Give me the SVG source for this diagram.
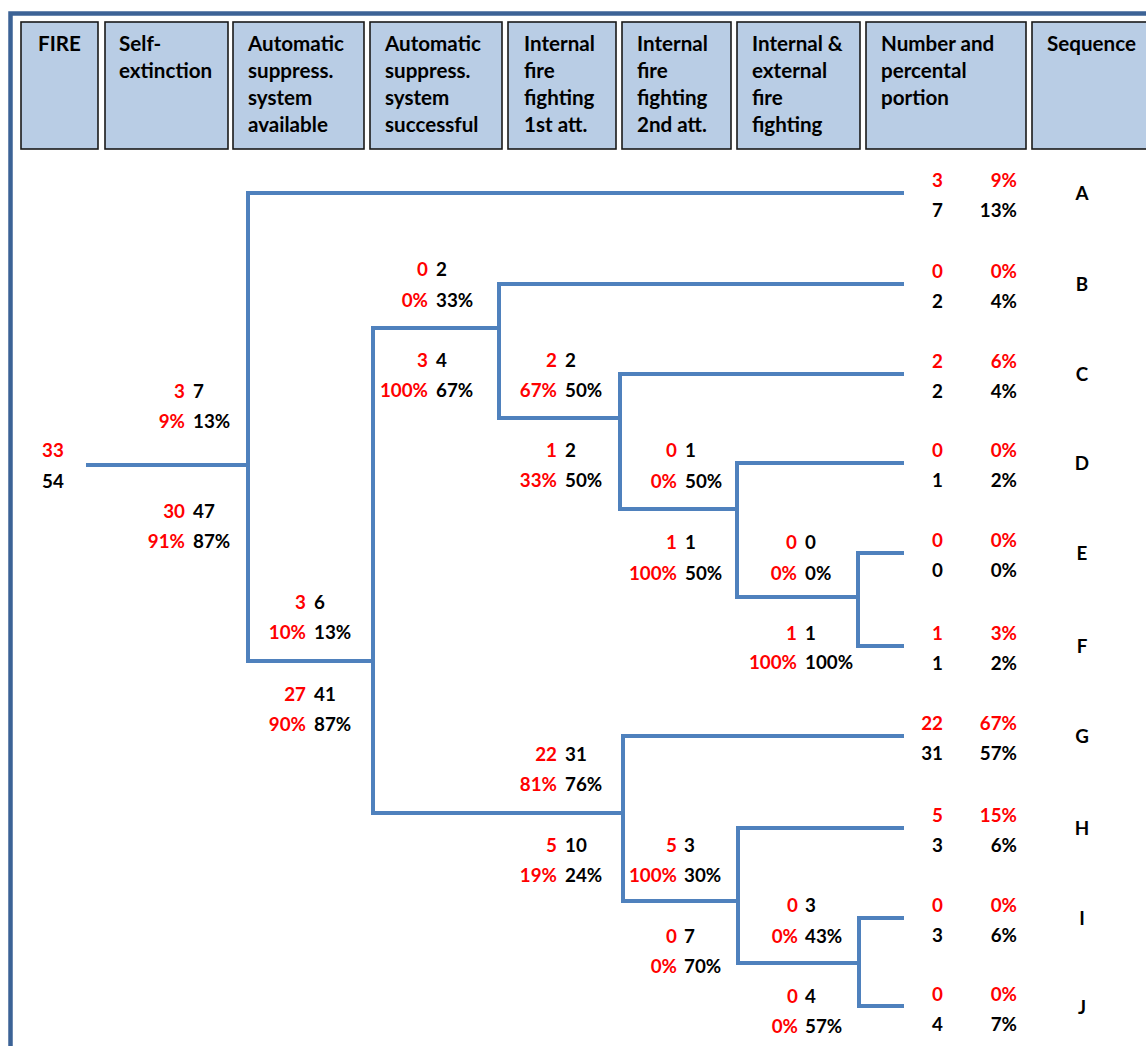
<svg xmlns="http://www.w3.org/2000/svg" width="1146" height="1046" viewBox="0 0 1146 1046">
<style>
text{font-family:Lato,"Liberation Sans",sans-serif;font-weight:bold}
.hb{fill:#B9CDE5;stroke:#1a1a1a;stroke-width:1.6}
.ht{font-size:20.6px;fill:#000}
.n{font-size:18.8px}
.r{fill:#FF0000}
.k{fill:#000}
.e{text-anchor:end}
.m{text-anchor:middle}
.tree path{fill:none;stroke:#4F81BD;stroke-width:4}
</style>
<rect x="0" y="0" width="1146" height="1046" fill="#fff"/>
<rect id="frame" x="10.5" y="13.5" width="1200" height="1100" fill="none" stroke="#3C6396" stroke-width="4.5"/>

<g id="headers">
<g id="h-fire"><rect class="hb" x="21" y="22" width="77" height="127"/><text class="ht m" x="59.5" y="51">FIRE</text></g>
<g id="h-self"><rect class="hb" x="105" y="22" width="123" height="127"/><text class="ht" x="119" y="51">Self-</text><text class="ht" x="119" y="78">extinction</text></g>
<g id="h-avail"><rect class="hb" x="233" y="22" width="131" height="127"/><text class="ht" x="248" y="51">Automatic</text><text class="ht" x="248" y="78">suppress.</text><text class="ht" x="248" y="105">system</text><text class="ht" x="248" y="132">available</text></g>
<g id="h-succ"><rect class="hb" x="370" y="22" width="132" height="127"/><text class="ht" x="385" y="51">Automatic</text><text class="ht" x="385" y="78">suppress.</text><text class="ht" x="385" y="105">system</text><text class="ht" x="385" y="132">successful</text></g>
<g id="h-int1"><rect class="hb" x="508" y="22" width="108" height="127"/><text class="ht" x="524" y="51">Internal</text><text class="ht" x="524" y="78">fire</text><text class="ht" x="524" y="105">fighting</text><text class="ht" x="524" y="132">1st att.</text></g>
<g id="h-int2"><rect class="hb" x="622" y="22" width="109" height="127"/><text class="ht" x="637" y="51">Internal</text><text class="ht" x="637" y="78">fire</text><text class="ht" x="637" y="105">fighting</text><text class="ht" x="637" y="132">2nd att.</text></g>
<g id="h-ext"><rect class="hb" x="737" y="22" width="123" height="127"/><text class="ht" x="752" y="51">Internal &amp;</text><text class="ht" x="752" y="78">external</text><text class="ht" x="752" y="105">fire</text><text class="ht" x="752" y="132">fighting</text></g>
<g id="h-num"><rect class="hb" x="866" y="22" width="160" height="127"/><text class="ht" x="881" y="51">Number and</text><text class="ht" x="881" y="78">percental</text><text class="ht" x="881" y="105">portion</text></g>
<g id="h-seq"><rect class="hb" x="1032" y="22" width="130" height="127"/><text class="ht" x="1047" y="51">Sequence</text></g>
</g>

<g id="connectors" class="tree">
<path d="M86 465 H248"/>
<path d="M904 193 H248 V661 H373"/>
<path d="M499 328 H373 V813 H623"/>
<path d="M904 284 H499 V418 H620"/>
<path d="M904 374 H620 V509 H737"/>
<path d="M904 463 H737 V597 H858"/>
<path d="M904 553 H858 V646 H904"/>
<path d="M904 736 H623 V901 H738"/>
<path d="M904 828 H738 V963 H859"/>
<path d="M904 918 H859 V1006 H904"/>
</g>

<g id="root"><text class="n r m" x="53" y="457">33</text><text class="n k m" x="53" y="488">54</text></g>

<g id="b-self-yes"><text class="n r e" x="185" y="398">3</text><text class="n k" x="193" y="398">7</text><text class="n r e" x="185" y="428">9%</text><text class="n k" x="193" y="428">13%</text></g>
<g id="b-self-no"><text class="n r e" x="185" y="518">30</text><text class="n k" x="193" y="518">47</text><text class="n r e" x="185" y="548">91%</text><text class="n k" x="193" y="548">87%</text></g>
<g id="b-avail-yes"><text class="n r e" x="306" y="609">3</text><text class="n k" x="314" y="609">6</text><text class="n r e" x="306" y="639">10%</text><text class="n k" x="314" y="639">13%</text></g>
<g id="b-avail-no"><text class="n r e" x="306" y="701">27</text><text class="n k" x="314" y="701">41</text><text class="n r e" x="306" y="731">90%</text><text class="n k" x="314" y="731">87%</text></g>
<g id="b-succ-yes"><text class="n r e" x="428" y="276">0</text><text class="n k" x="436" y="276">2</text><text class="n r e" x="428" y="307">0%</text><text class="n k" x="436" y="307">33%</text></g>
<g id="b-succ-no"><text class="n r e" x="428" y="367">3</text><text class="n k" x="436" y="367">4</text><text class="n r e" x="428" y="397">100%</text><text class="n k" x="436" y="397">67%</text></g>
<g id="b-int1a-yes"><text class="n r e" x="557" y="367">2</text><text class="n k" x="565" y="367">2</text><text class="n r e" x="557" y="397">67%</text><text class="n k" x="565" y="397">50%</text></g>
<g id="b-int1a-no"><text class="n r e" x="557" y="457">1</text><text class="n k" x="565" y="457">2</text><text class="n r e" x="557" y="487">33%</text><text class="n k" x="565" y="487">50%</text></g>
<g id="b-int2a-yes"><text class="n r e" x="677" y="457">0</text><text class="n k" x="685" y="457">1</text><text class="n r e" x="677" y="488">0%</text><text class="n k" x="685" y="488">50%</text></g>
<g id="b-int2a-no"><text class="n r e" x="677" y="549">1</text><text class="n k" x="685" y="549">1</text><text class="n r e" x="677" y="580">100%</text><text class="n k" x="685" y="580">50%</text></g>
<g id="b-exta-yes"><text class="n r e" x="797" y="549">0</text><text class="n k" x="805" y="549">0</text><text class="n r e" x="797" y="580">0%</text><text class="n k" x="805" y="580">0%</text></g>
<g id="b-exta-no"><text class="n r e" x="797" y="640">1</text><text class="n k" x="805" y="640">1</text><text class="n r e" x="797" y="669">100%</text><text class="n k" x="805" y="669">100%</text></g>
<g id="b-int1b-yes"><text class="n r e" x="557" y="761">22</text><text class="n k" x="565" y="761">31</text><text class="n r e" x="557" y="791">81%</text><text class="n k" x="565" y="791">76%</text></g>
<g id="b-int1b-no"><text class="n r e" x="557" y="852">5</text><text class="n k" x="565" y="852">10</text><text class="n r e" x="557" y="882">19%</text><text class="n k" x="565" y="882">24%</text></g>
<g id="b-int2b-yes"><text class="n r e" x="677" y="852">5</text><text class="n k" x="684" y="852">3</text><text class="n r e" x="677" y="882">100%</text><text class="n k" x="684" y="882">30%</text></g>
<g id="b-int2b-no"><text class="n r e" x="677" y="943">0</text><text class="n k" x="684" y="943">7</text><text class="n r e" x="677" y="973">0%</text><text class="n k" x="684" y="973">70%</text></g>
<g id="b-extb-yes"><text class="n r e" x="798" y="912">0</text><text class="n k" x="805" y="912">3</text><text class="n r e" x="798" y="943">0%</text><text class="n k" x="805" y="943">43%</text></g>
<g id="b-extb-no"><text class="n r e" x="798" y="1003">0</text><text class="n k" x="805" y="1003">4</text><text class="n r e" x="798" y="1033">0%</text><text class="n k" x="805" y="1033">57%</text></g>

<g id="seq-A"><text class="n r e" x="943" y="187">3</text><text class="n r e" x="1017" y="187">9%</text><text class="n k e" x="943" y="217">7</text><text class="n k e" x="1017" y="217">13%</text><text class="n k m" x="1082" y="200">A</text></g>
<g id="seq-B"><text class="n r e" x="943" y="278">0</text><text class="n r e" x="1017" y="278">0%</text><text class="n k e" x="943" y="308">2</text><text class="n k e" x="1017" y="308">4%</text><text class="n k m" x="1082" y="291">B</text></g>
<g id="seq-C"><text class="n r e" x="943" y="368">2</text><text class="n r e" x="1017" y="368">6%</text><text class="n k e" x="943" y="398">2</text><text class="n k e" x="1017" y="398">4%</text><text class="n k m" x="1082" y="381">C</text></g>
<g id="seq-D"><text class="n r e" x="943" y="457">0</text><text class="n r e" x="1017" y="457">0%</text><text class="n k e" x="943" y="487">1</text><text class="n k e" x="1017" y="487">2%</text><text class="n k m" x="1082" y="470">D</text></g>
<g id="seq-E"><text class="n r e" x="943" y="547">0</text><text class="n r e" x="1017" y="547">0%</text><text class="n k e" x="943" y="577">0</text><text class="n k e" x="1017" y="577">0%</text><text class="n k m" x="1082" y="560">E</text></g>
<g id="seq-F"><text class="n r e" x="943" y="640">1</text><text class="n r e" x="1017" y="640">3%</text><text class="n k e" x="943" y="670">1</text><text class="n k e" x="1017" y="670">2%</text><text class="n k m" x="1082" y="653">F</text></g>
<g id="seq-G"><text class="n r e" x="943" y="730">22</text><text class="n r e" x="1017" y="730">67%</text><text class="n k e" x="943" y="760">31</text><text class="n k e" x="1017" y="760">57%</text><text class="n k m" x="1082" y="743">G</text></g>
<g id="seq-H"><text class="n r e" x="943" y="822">5</text><text class="n r e" x="1017" y="822">15%</text><text class="n k e" x="943" y="852">3</text><text class="n k e" x="1017" y="852">6%</text><text class="n k m" x="1082" y="835">H</text></g>
<g id="seq-I"><text class="n r e" x="943" y="912">0</text><text class="n r e" x="1017" y="912">0%</text><text class="n k e" x="943" y="942">3</text><text class="n k e" x="1017" y="942">6%</text><text class="n k m" x="1082" y="925">I</text></g>
<g id="seq-J"><text class="n r e" x="943" y="1001">0</text><text class="n r e" x="1017" y="1001">0%</text><text class="n k e" x="943" y="1031">4</text><text class="n k e" x="1017" y="1031">7%</text><text class="n k m" x="1082" y="1014">J</text></g>
</svg>
